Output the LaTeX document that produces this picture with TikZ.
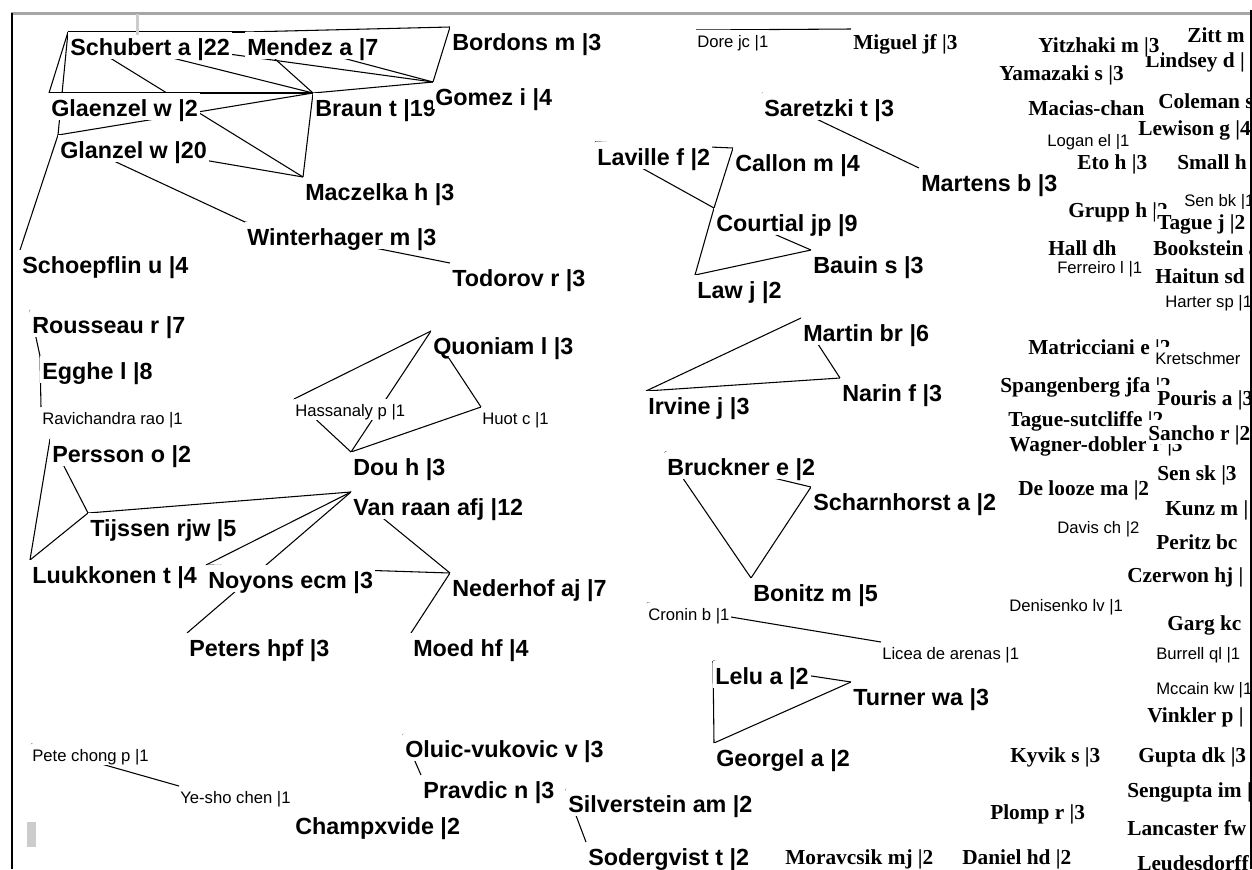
\documentclass[tikz,border=0pt]{standalone}
\usepackage{fontspec}
\setmainfont{Liberation Sans}
\newfontfamily\serifb{Liberation Serif}
\pgfdeclarelayer{bg}
\pgfdeclarelayer{edges}
\pgfsetlayers{bg,edges,main}
\tikzset{
  lb/.style={anchor=north west, fill=white, inner xsep=1.5pt, inner ysep=0pt,
    text height=17.5pt, text depth=2.7pt, font=\fontsize{17.5}{18}\selectfont\bfseries},
  ls/.style={anchor=north west, fill=white, inner xsep=0.75pt, inner ysep=0pt,
    text height=12.75pt, text depth=3pt, font=\fontsize{12.5}{13}\selectfont},
  lr/.style={anchor=north west, fill=white, inner xsep=1.5pt, inner ysep=0pt,
    text height=15pt, text depth=3pt, font=\serifb\fontsize{16}{17}\selectfont\bfseries},
  edge/.style={line width=0.8pt, black},
}
\begin{document}
\begin{tikzpicture}[x=0.75pt,y=-0.75pt]
\useasboundingbox (0,0) rectangle (1252,869);
\begin{pgfonlayer}{bg}
  \fill[white] (0,0) rectangle (1252,869);
\end{pgfonlayer}
\begin{scope}
\clip (0,0) rectangle (1250,869);
% bold sans labels
\node[lb] (schubert) at (68,32) {Schubert a |22};
\node[lb] (mendez) at (245,32) {Mendez a |7};
\node[lb] (bordons) at (450,27) {Bordons m |3};
\node[lb] (glaenzel) at (49,93) {Glaenzel w |2};
\node[lb] (braun) at (313,93) {Braun t |19};
\node[lb] (gomez) at (433,82) {Gomez i |4};
\node[lb] (glanzel) at (58,135) {Glanzel w |20};
\node[lb] (maczelka) at (303,177) {Maczelka h |3};
\node[lb] (winterhager) at (245,222) {Winterhager m |3};
\node[lb] (schoepflin) at (20,250) {Schoepflin u |4};
\node[lb] (todorov) at (450,263) {Todorov r |3};
\node[lb] (laville) at (595,142) {Laville f |2};
\node[lb] (callon) at (733,148) {Callon m |4};
\node[lb] (saretzki) at (762,93) {Saretzki t |3};
\node[lb] (martens) at (919,168) {Martens b |3};
\node[lb] (courtial) at (714,208) {Courtial jp |9};
\node[lb] (bauin) at (811,250) {Bauin s |3};
\node[lb] (law) at (695,275) {Law j |2};
\node[lb] (rousseau) at (30,310) {Rousseau r |7};
\node[lb] (egghe) at (40,356) {Egghe l |8};
\node[lb] (persson) at (50,439) {Persson o |2};
\node[lb] (tijssen) at (88,513) {Tijssen rjw |5};
\node[lb] (luukkonen) at (30,560) {Luukkonen t |4};
\node[lb] (noyons) at (206,565) {Noyons ecm |3};
\node[lb] (quoniam) at (431,331) {Quoniam l |3};
\node[lb] (dou) at (351,452) {Dou h |3};
\node[lb] (vanraan) at (351,492) {Van raan afj |12};
\node[lb] (nederhof) at (450,573) {Nederhof aj |7};
\node[lb] (peters) at (187,633) {Peters hpf |3};
\node[lb] (moed) at (411,633) {Moed hf |4};
\node[lb] (martin) at (801,318) {Martin br |6};
\node[lb] (narin) at (840,378) {Narin f |3};
\node[lb] (irvine) at (646,391) {Irvine j |3};
\node[lb] (bruckner) at (665,452) {Bruckner e |2};
\node[lb] (scharnhorst) at (811,487) {Scharnhorst a |2};
\node[lb] (bonitz) at (751,578) {Bonitz m |5};
\node[lb] (lelu) at (713,661) {Lelu a |2};
\node[lb] (turner) at (851,682) {Turner wa |3};
\node[lb] (georgel) at (714,743) {Georgel a |2};
\node[lb] (oluic) at (403,734) {Oluic-vukovic v |3};
\node[lb] (pravdic) at (421,775) {Pravdic n |3};
\node[lb] (champxvide) at (293,811) {Champxvide |2};
\node[lb] (silverstein) at (566,789) {Silverstein am |2};
\node[lb] (sodergvist) at (586,842) {Sodergvist t |2};
% small labels
\node[ls] (dore) at (696,30) {Dore jc |1};
\node[ls] (hassanaly) at (294,399) {Hassanaly p |1};
\node[ls] (huot) at (481,407) {Huot c |1};
\node[ls] (ravichandra) at (41,407) {Ravichandra rao |1};
\node[ls] (petechong) at (31,744) {Pete chong p |1};
\node[ls] (yesho) at (179,786) {Ye-sho chen |1};
\node[ls] (cronin) at (647,603) {Cronin b |1};
\node[ls] (licea) at (881,642) {Licea de arenas |1};
\node[ls] (logan) at (1046,129) {Logan el |1};
\node[ls] (ferreiro) at (1056,256) {Ferreiro l |1};
\node[ls] (senbk) at (1183,189) {Sen bk |1};
\node[ls] (harter) at (1164,290) {Harter sp |1};
\node[ls] (davis) at (1056,516) {Davis ch |2};
\node[ls] (denisenko) at (1008,594) {Denisenko lv |1};
\node[ls] (burrell) at (1155,642) {Burrell ql |1};
\node[ls] (mccain) at (1155,677) {Mccain kw |1};
% serif labels (order matters for overlaps)
\node[lr] (miguel) at (851,29) {Miguel jf |3};
\node[lr] (lindsey) at (1143,47) {Lindsey d |};
\node[lr] (yitzhaki) at (1036,32) {Yitzhaki m |3};
\node[lr] (zitt) at (1185,22) {Zitt m |};
\node[lr] (yamazaki) at (997,60) {Yamazaki s |3};
\node[lr] (macias) at (1026,95) {Macias-chan};
\node[lr] (coleman) at (1156,88) {Coleman s};
\node[lr] (lewison) at (1136,115) {Lewison g |4};
\node[lr] (eto) at (1075,149) {Eto h |3};
\node[lr] (small) at (1175,149) {Small h};
\node[lr] (grupp) at (1066,197) {Grupp h |2};
\node[lr] (tague) at (1155,209) {Tague j |2};
\node[lr] (hall) at (1046,235) {Hall dh};
\node[lr] (bookstein) at (1151,235) {Bookstein a |};
\node[lr] (haitun) at (1153,263) {Haitun sd};
\node[lr] (matricciani) at (1026,334) {Matricciani e |2};
\node[ls] (kretschmer) at (1154,347) {Kretschmer};
\node[lr] (spangenberg) at (998,372) {Spangenberg jfa |2};
\node[lr] (pouris) at (1155,385) {Pouris a |3};
\node[lr] (taguesut) at (1006,406) {Tague-sutcliffe |2};
\node[lr] (wagner) at (1007,431) {Wagner-dobler r |3};
\node[lr] (sancho) at (1146,420) {Sancho r |2};
\node[lr] (delooze) at (1016,475) {De looze ma |2};
\node[lr] (sensk) at (1155,460) {Sen sk |3};
\node[lr] (kunz) at (1163,495) {Kunz m |};
\node[lr] (peritz) at (1154,529) {Peritz bc};
\node[lr] (czerwon) at (1125,562) {Czerwon hj |};
\node[lr] (garg) at (1165,610) {Garg kc};
\node[lr] (vinkler) at (1145,702) {Vinkler p |};
\node[lr] (kyvik) at (1008,742) {Kyvik s |3};
\node[lr] (gupta) at (1136,742) {Gupta dk |3};
\node[lr] (sengupta) at (1125,777) {Sengupta im |};
\node[lr] (plomp) at (988,799) {Plomp r |3};
\node[lr] (lancaster) at (1125,815) {Lancaster fw};
\node[lr] (daniel) at (960,844) {Daniel hd |2};
\node[lr] (leudesdorff) at (1135,850) {Leudesdorff};
\node[lr] (moravcsik) at (783,844) {Moravcsik mj |2};
\end{scope}
% connectors (drawn beneath the labels)
\begin{pgfonlayer}{edges}
\foreach \a/\b in {schubert/glaenzel, schubert/glanzel, schubert/mendez, schubert/braun,
  schubert/gomez, schubert/maczelka, mendez/bordons, mendez/braun, mendez/gomez,
  bordons/gomez, braun/gomez, glaenzel/braun, glanzel/braun, braun/maczelka,
  glanzel/maczelka, glanzel/winterhager, glanzel/schoepflin, winterhager/todorov,
  saretzki/martens, dore/miguel, laville/callon, laville/courtial, callon/courtial,
  courtial/law, courtial/bauin, law/bauin, rousseau/egghe, egghe/ravichandra,
  persson/luukkonen, persson/tijssen, luukkonen/tijssen, tijssen/vanraan,
  noyons/vanraan, peters/vanraan, vanraan/nederhof, noyons/nederhof, nederhof/moed,
  quoniam/hassanaly, quoniam/huot, quoniam/dou, hassanaly/dou, huot/dou,
  martin/irvine, martin/narin, narin/irvine, bruckner/scharnhorst, bruckner/bonitz,
  scharnhorst/bonitz, cronin/licea, lelu/turner, lelu/georgel, georgel/turner,
  oluic/pravdic, silverstein/sodergvist, petechong/yesho}
  \draw[edge] (\a.north west) -- (\b.north west);
\end{pgfonlayer}
% window frame
\draw[gray!70, line width=2pt] (11,13.5) -- (1252,13.5);
\fill[gray!40] (135.5,14) rectangle (138.5,35);
\fill[gray!40] (27,822) rectangle (36,847);
\draw[black, line width=1.5pt] (11.5,13) -- (11.5,869);
\draw[black, line width=1.5pt] (1251,10) -- (1251,869);
\end{tikzpicture}
\end{document}
